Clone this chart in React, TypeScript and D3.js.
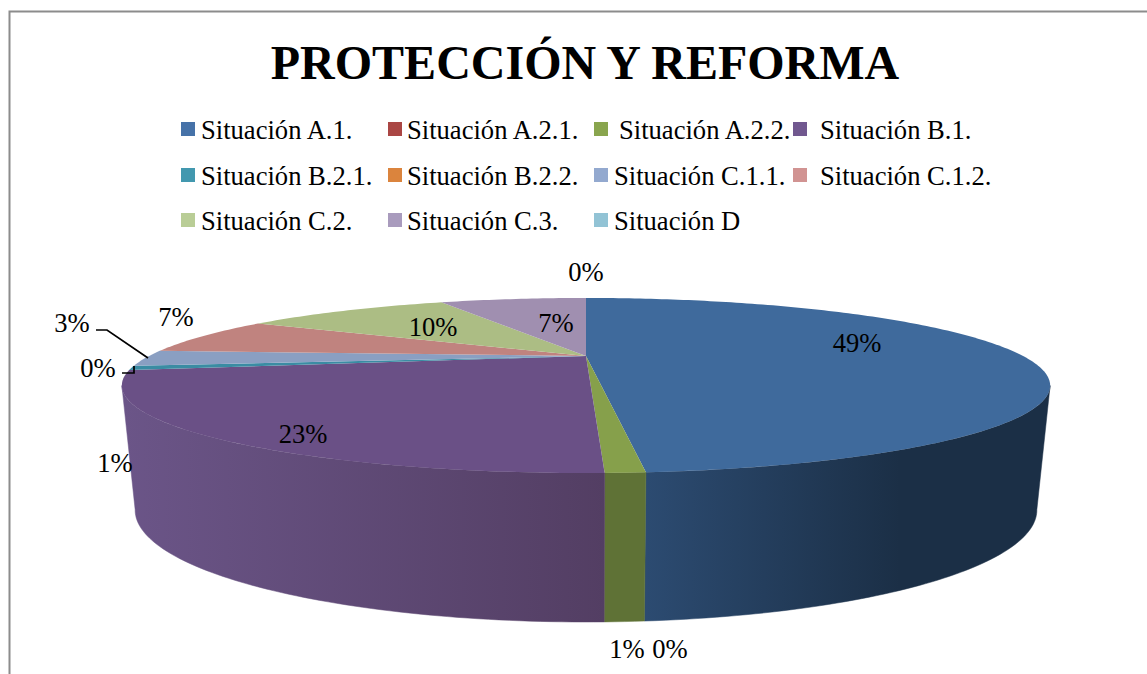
import React from "react";
import * as d3 from "d3";

const categories = ["Situación A.1.", "Situación A.2.1.", "Situación A.2.2.", "Situación B.1.", "Situación B.2.1.", "Situación B.2.2.", "Situación C.1.1.", "Situación C.1.2.", "Situación C.2.", "Situación C.3.", "Situación D"];
// values (angles), labels as printed on the chart
const values = [48.5, 0, 1.0, 22.7, 0.8, 0, 3.0, 7.0, 9.8, 7.1, 0];
const percentLabels = ["49%", "0%", "1%", "23%", "1%", "0%", "3%", "7%", "10%", "7%", "0%"];
const legendColors = ["#4672a8", "#aa4644", "#89a54e", "#71588f", "#4298af", "#db843d", "#93a9cf", "#d19392", "#b9cd96", "#a99bbd", "#92c3d5"];
const topColors = ["#3f6a9c", "#a04240", "#86a04b", "#6a5086", "#3a8ca3", "#cc7a35", "#8a9fc2", "#c0837f", "#acbd84", "#a08fb0", "#86b5c5"];

const W = 1147;
const H = 674;
const serif = "'Liberation Serif', 'Times New Roman', serif";

// the pie is a disc seen in perspective, so its centre is not the ellipse's centre
const topDisc = { cx: 586, cy: 356, a: 437, b: 77.6, k: 0.337 };
const baseDisc = { cx: 586, cy: 472, a: 424, b: 99, k: 0.34 };
const project = (disc: typeof topDisc, t: number): [number, number] => {
  const u = Math.sin(t);
  const v = -Math.cos(t);
  const d = 1 - disc.k * v;
  return [disc.cx + (disc.a * u) / d, disc.cy + (disc.b * v) / d];
};

const pieGen = d3.pie<number>().sort(null).value((d) => d);
const arcs = pieGen(values);
const line = d3.line();

const rim = (disc: typeof topDisc, t0: number, t1: number) => {
  const n = Math.max(2, Math.ceil(Math.abs(t1 - t0) * 60));
  return d3.range(n + 1).map((i) => project(disc, t0 + ((t1 - t0) * i) / n));
};

const wallFrom = Math.acos(-0.337);
const wallTo = 2 * Math.PI - wallFrom;

const walls = [
  { i: 0, fill: "url(#wallBlue)" },
  { i: 2, fill: "#5f7236" },
  { i: 3, fill: "url(#wallPurple)" },
];

const legendRows = [[0, 1, 2, 3], [4, 5, 6, 7], [8, 9, 10]];
const legendColX = [181, 388, 594, 793];
const legendTextX = [201, 407, 614, 820];
const legendRowY = [129, 175, 220];

// where the data labels sit, same order as values
const labelX = [857, 670, 627, 303, 115, 98, 72, 176, 433, 556, 586];
const labelY = [343, 649, 649, 434, 463, 368, 323, 317, 327, 323, 272];

export default function App() {
  return (
    <svg width={W} height={H} style={{ position: "absolute", left: 0, top: 0, background: "#fff" }}>
      <defs>
        <linearGradient id="wallBlue" gradientUnits="userSpaceOnUse" x1="646" x2="900" y1="0" y2="0">
          <stop offset="0" stopColor="#2c4b71" />
          <stop offset="1" stopColor="#1b2f46" />
        </linearGradient>
        <linearGradient id="wallPurple" gradientUnits="userSpaceOnUse" x1="122" x2="606" y1="0" y2="0">
          <stop offset="0" stopColor="#6b5588" />
          <stop offset="1" stopColor="#533e63" />
        </linearGradient>
      </defs>

      <path d="M9.5,674V11.5H1147" fill="none" stroke="#8c8c8c" strokeWidth={2} />

      <text x={585} y={79} textAnchor="middle" fontFamily={serif} fontWeight="bold" fontSize={48} fill="#000">
        PROTECCIÓN Y REFORMA
      </text>

      {legendRows.map((row, r) =>
        row.map((idx, c) => (
          <g key={idx}>
            <rect x={legendColX[c]} y={legendRowY[r] - 7} width={14} height={14} fill={legendColors[idx]} />
            <text x={legendTextX[c] + (idx === 2 ? 5 : 0)} y={legendRowY[r] + 10} fontFamily={serif} fontSize={26.6} fill="#000">
              {categories[idx]}
            </text>
          </g>
        ))
      )}

      {walls.map(({ i, fill }) => {
        const t0 = Math.max(arcs[i].startAngle, wallFrom);
        const t1 = Math.min(arcs[i].endAngle, wallTo);
        const pts = [...rim(topDisc, t0, t1), ...rim(baseDisc, t1, t0)];
        return <path key={i} d={line(pts) + "Z"} fill={fill} stroke={fill} strokeWidth={0.5} />;
      })}

      {arcs.map((a, i) => {
        const pts: [number, number][] = [[topDisc.cx, topDisc.cy], ...rim(topDisc, a.startAngle, a.endAngle)];
        return <path key={i} d={line(pts) + "Z"} fill={topColors[i]} />;
      })}

      <path d="M96,330H107L148,358" fill="none" stroke="#000" strokeWidth={1.7} />
      <path d="M122,373H134V366" fill="none" stroke="#000" strokeWidth={1.7} />

      {percentLabels.map((t, i) => (
        <text key={i} x={labelX[i]} y={labelY[i]} dy="0.33em" textAnchor="middle" fontFamily={serif} fontSize={26.6} fill="#000">
          {t}
        </text>
      ))}
    </svg>
  );
}
